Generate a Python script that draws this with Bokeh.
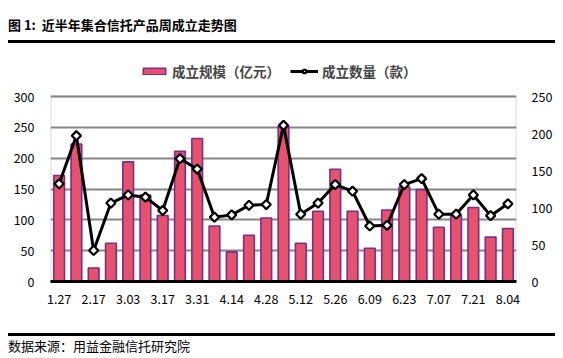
from bokeh.plotting import figure
from bokeh.layouts import column
from bokeh.models import (Range1d, LinearAxis, FixedTicker, Legend, LegendItem, Div,
                          BoxAnnotation)
from bokeh.embed import file_html
from bokeh.resources import INLINE
import math

weeks = ["1.27", "2.03", "2.17", "2.24", "3.03", "3.10", "3.17", "3.24", "3.31",
         "4.07", "4.14", "4.21", "4.28", "5.05", "5.12", "5.19", "5.26", "6.02",
         "6.09", "6.16", "6.23", "6.30", "7.07", "7.14", "7.21", "7.28", "8.04"]
scale = [172, 223, 22, 62, 194, 140, 107, 211, 232, 90, 48, 75, 103, 252, 62,
         114, 182, 114, 54, 116, 153, 149, 88, 107, 120, 72, 86]
count = [132, 197, 42, 106, 117, 114, 96, 166, 152, 87, 90, 103, 104, 211, 91,
         106, 131, 122, 75, 76, 131, 139, 91, 91, 117, 89, 105]
left_ticks = [0, 50, 100, 150, 200, 250, 300]
right_ticks = [0, 50, 100, 150, 200, 250]

title_text = "图 1:&nbsp; 近半年集合信托产品周成立走势图"
source_text = "数据来源：用益金融信托研究院"
bar_name = "成立规模（亿元）"
line_name = "成立数量（款）"

FONT = "Noto Sans CJK SC"
W = 563
FIG_H, TOP, BOTTOM = 288, 14, 50
PLOT_PX = 185                      # pixel height of the 0..300 plot area
frame_px = FIG_H - TOP - BOTTOM
left_max, right_max = 300, 250
ext = frame_px / PLOT_PX           # extra room above the plot area for the legend

idx = list(range(len(weeks)))

p = figure(width=W, height=FIG_H, x_range=Range1d(-0.5, len(weeks) - 0.5),
           y_range=Range1d(0, left_max * ext), output_backend="svg",
           toolbar_location=None, min_border_left=50, min_border_right=47,
           min_border_top=TOP, min_border_bottom=BOTTOM)
p.extra_y_ranges = {"right": Range1d(0, right_max * ext)}
p.outline_line_color = None

# plot-area border (left, right, top) drawn at the axis limits
p.add_layout(BoxAnnotation(left=-0.5, right=len(weeks) - 0.5, bottom=0, top=left_max,
                           fill_alpha=0, line_color="#868686", line_width=2,
                           level="underlay"))

bars = p.vbar(x=idx, top=scale, width=0.62, fill_color="#E8506C",
              line_color="#74308F", line_width=1.6)
ln = p.line(x=idx, y=count, y_range_name="right", line_color="black", line_width=3)
mk = p.scatter(x=idx, y=count, y_range_name="right", marker="square", size=6.5,
               angle=math.pi / 4, fill_color="white", line_color="black",
               line_width=2.2)

p.xgrid.grid_line_color = None
p.ygrid.grid_line_color = "#868686"
p.ygrid.grid_line_width = 2
p.ygrid.ticker = FixedTicker(ticks=left_ticks)

yl = p.yaxis[0]
yl.ticker = FixedTicker(ticks=left_ticks)
yr = LinearAxis(y_range_name="right", ticker=FixedTicker(ticks=right_ticks))
p.add_layout(yr, "right")
for ax in (yl, yr):
    ax.axis_line_color = None
    ax.major_tick_line_color = None
    ax.minor_tick_line_color = None
    ax.major_label_text_font = FONT
    ax.major_label_text_font_size = "12.5px"
    ax.major_label_text_color = "black"
yl.major_label_standoff = 10
yr.major_label_standoff = 9

xa = p.xaxis[0]
xa.ticker = FixedTicker(ticks=idx[::2])
xa.major_label_overrides = {i: weeks[i] for i in idx[::2]}
xa.axis_line_color = "black"
xa.axis_line_width = 3
xa.major_tick_line_color = None
xa.minor_tick_line_color = None
xa.major_label_text_font = FONT
xa.major_label_text_font_size = "12.5px"
xa.major_label_text_color = "black"
xa.major_label_standoff = 6

legend = Legend(items=[LegendItem(label=bar_name, renderers=[bars]),
                       LegendItem(label=line_name, renderers=[ln, mk])],
                orientation="horizontal", location=(90, 200),
                background_fill_alpha=0, border_line_color=None,
                label_text_font=FONT, label_text_font_size="13.5px",
                label_text_font_style="bold", glyph_width=28, glyph_height=8,
                spacing=10, padding=0, margin=0, label_standoff=4)
p.add_layout(legend)

title_div = Div(text=title_text, width=547, height=43, margin=(0, 0, 0, 8),
                styles={"font-family": FONT, "font-size": "13px",
                        "font-weight": "bold", "color": "black",
                        "border-bottom": "3px solid black",
                        "box-sizing": "border-box", "padding-top": "16px",
                        "line-height": "18px"})
source_div = Div(text=source_text, width=547, height=25, margin=(2, 0, 0, 8),
                 styles={"font-family": FONT, "font-size": "13px",
                         "color": "black", "border-top": "3px solid black",
                         "box-sizing": "border-box",
                         "padding-top": "1px", "line-height": "18px"})

layout = column(title_div, p, source_div, spacing=0)

open("out.html", "w").write(file_html(layout, INLINE))
